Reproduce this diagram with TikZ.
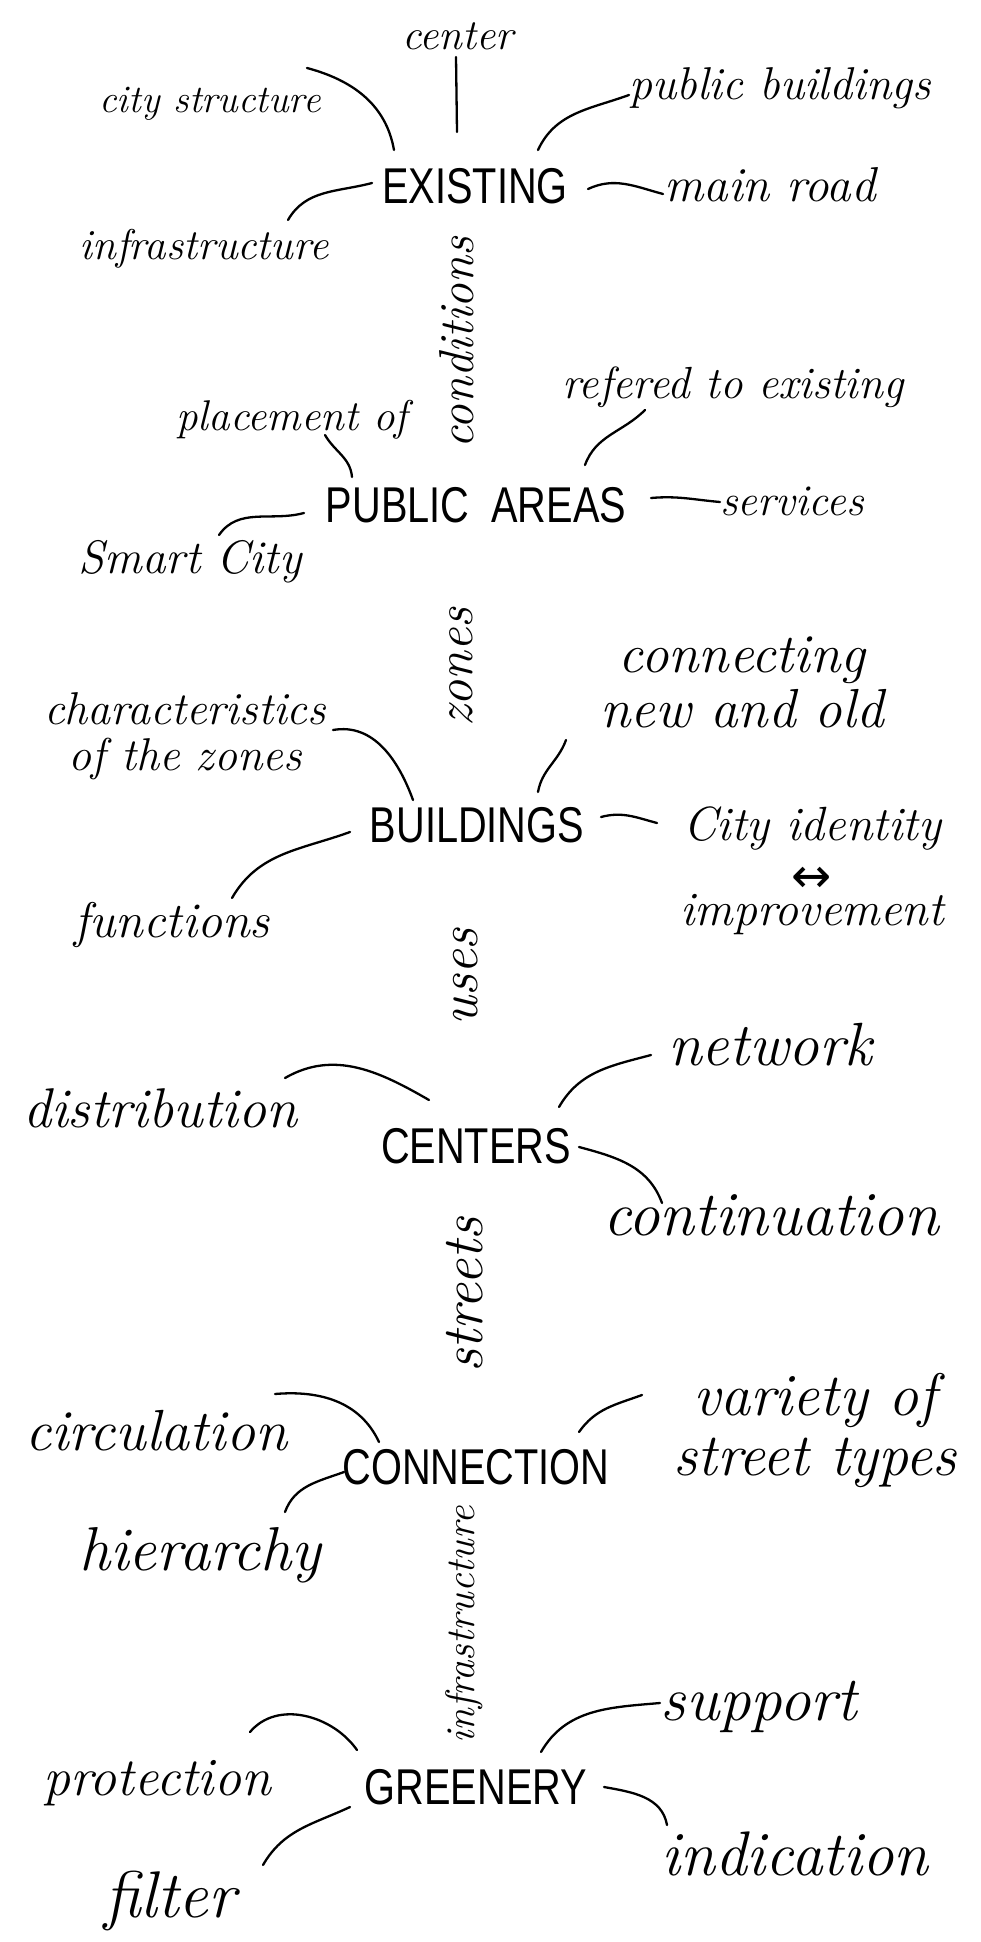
\documentclass[tikz,border=0pt]{standalone}
\usepackage{fontspec}
\newfontfamily\topicfont[FakeStretch=0.79]{Liberation Sans}
\newfontfamily\arrowfont{DejaVu Sans}
\tikzset{
    leaf/.style={
        font=\fontsize{#1}{#1}\selectfont\itshape,
        inner sep=0pt,
        anchor=base,
        align=center
    },
    leaf/.default=50,
    link label/.style={
        font=\fontsize{#1}{#1}\selectfont\itshape,
        inner sep=0pt,
        rotate=90
    }
}

\begin{document}
\begin{tikzpicture}[x=1pt, y=-1pt, line width=2.3pt, line cap=round]

    \tikzstyle{topic} = [
        inner sep=0pt,
        font=\topicfont\fontsize{50.3}{60}\selectfont
    ]

    \fill[white] (0,0) rectangle (981,1942);
    \useasboundingbox (0,0) rectangle (981,1942);

    % Thèmes principaux
    \node[topic] (existing) at (475,186) {EXISTING};
    \node[topic] (public) at (476,505) {PUBLIC\ \ AREAS};
    \node[topic] (buildings) at (477,825) {BUILDINGS};
    \node[topic] (centers) at (476,1146) {CENTERS};
    \node[topic] (connection) at (476,1467) {CONNECTION};
    \node[topic] (greenery) at (476,1787) {GREENERY};

    % Liens verticaux
    \node[link label=49] (conditions) at (457,343) {conditions};
    \node[link label=52] (zones) at (461,667) {zones};
    \node[link label=55] (uses) at (466,977) {uses};
    \node[link label=58] (streets) at (465,1295) {streets};
    \node[link label=41] (infralink) at (464,1625) {infrastructure};

    % Notes autour des thèmes (base = dernière ligne)
    \node[leaf=43] (ctr) at (458,50) {center};
    \node[leaf=39] (citystr) at (210,113) {city structure};
    \node[leaf=46] (pubbuild) at (780,100) {public buildings};
    \node[leaf=49] (mainroad) at (770,202) {main road};
    \node[leaf=43] (infra) at (204,260) {infrastructure};
    \node[leaf=43] (placement) at (292,430) {placement of};
    \node[leaf=45] (refered) at (733,398) {refered to existing};
    \node[leaf=44] (services) at (792,515) {services};
    \node[leaf=47] (smartcity) at (190,573) {Smart City};
    \node[leaf=46] (zonechar) at (185,770) {characteristics\\of the zones};
    \node[leaf=55] (newold) at (742,727) {connecting\\new and old};
    \node[leaf=48] (identity) at (812,925) {City identity\\[4pt]{\arrowfont ↔}\\[-15pt]improvement};
    \node[leaf=50] (functions) at (172,937) {functions};
    \node[leaf=61] (network) at (770,1065) {network};
    \node[leaf=56] (distribution) at (160,1127) {distribution};
    \node[leaf=63] (continuation) at (771,1235) {continuation};
    \node[leaf=58] (circulation) at (156,1450) {circulation};
    \node[leaf=60] (streettypes) at (815,1475) {variety of\\street types};
    \node[leaf=62] (hierarchy) at (200,1570) {hierarchy};
    \node[leaf=54] (protection) at (157,1795) {protection};
    \node[leaf=63] (support) at (759,1720) {support};
    \node[leaf=63] (indication) at (795,1875) {indication};
    \node[leaf=66] (filter) at (170,1917) {filter};

    % Traits à main levée
    \path[draw=black]
        ([shift={(-2,7)}]ctr.base) edge ([shift={(-18,-54)}]existing.center)
        ([shift={(97,-45)}]citystr.base) edge [out=-15, in=100] ([shift={(-81,-36)}]existing.center)
        ([shift={(63,-36)}]existing.center) edge [out=65, in=200] ([shift={(-151,-5)}]pubbuild.base)
        ([shift={(113,3)}]existing.center) edge [out=25, in=165] ([shift={(-107,-8)}]mainroad.base)
        ([shift={(84,-40)}]infra.base) edge [out=60, in=195] ([shift={(-103,-3)}]existing.center);

    \path[draw=black]
        ([shift={(33,5)}]placement.base) edge [out=-60, in=95] ([shift={(-124,-28)}]public.center)
        ([shift={(-88,12)}]refered.base) edge [out=225, in=70] ([shift={(109,-40)}]public.center)
        ([shift={(175,-7)}]public.center) edge [out=5, in=175] ([shift={(-72,-13)}]services.base)
        ([shift={(29,-38)}]smartcity.base) edge [out=55, in=195] ([shift={(-172,8)}]public.center);

    \path[draw=black]
        ([shift={(148,-40)}]zonechar.base) edge [out=10, in=110] ([shift={(-64,-25)}]buildings.center)
        ([shift={(-176,13)}]newold.base) edge [out=250, in=80] ([shift={(61,-33)}]buildings.center)
        ([shift={(124,-8)}]buildings.center) edge [out=15, in=165] ([shift={(-155,-102)}]identity.base)
        ([shift={(60,-39)}]functions.base) edge [out=60, in=200] ([shift={(-127,7)}]buildings.center);

    \path[draw=black]
        ([shift={(-119,-10)}]network.base) edge [out=195, in=60] ([shift={(83,-39)}]centers.center)
        ([shift={(125,-49)}]distribution.base) edge [out=30, in=150] ([shift={(-47,-46)}]centers.center)
        ([shift={(103,1)}]centers.center) edge [out=-15, in=110] ([shift={(-109,-32)}]continuation.base);

    \path[draw=black]
        ([shift={(119,-56)}]circulation.base) edge [out=5, in=115] ([shift={(-97,-25)}]connection.center)
        ([shift={(103,-35)}]connection.center) edge [out=55, in=200] ([shift={(-173,-80)}]streettypes.base)
        ([shift={(85,-58)}]hierarchy.base) edge [out=70, in=200] ([shift={(-132,5)}]connection.center);

    \path[draw=black]
        ([shift={(93,-63)}]protection.base) edge [out=50, in=125] ([shift={(-119,-37)}]greenery.center)
        ([shift={(65,-35)}]greenery.center) edge [out=60, in=185] ([shift={(-99,-17)}]support.base)
        ([shift={(128,0)}]greenery.center) edge [out=-10, in=100] ([shift={(-128,-50)}]indication.base)
        ([shift={(93,-52)}]filter.base) edge [out=60, in=205] ([shift={(-126,20)}]greenery.center);

\end{tikzpicture}
\end{document}
